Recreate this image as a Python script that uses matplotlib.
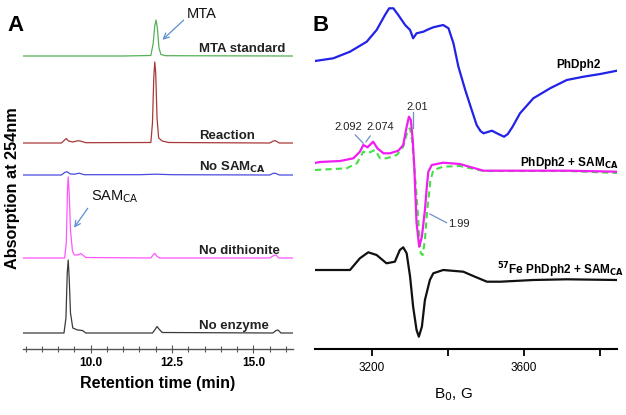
import matplotlib
matplotlib.use("Agg")
import matplotlib.pyplot as plt
from matplotlib.ticker import MultipleLocator, FixedLocator

plt.rcParams['font.family'] = ['Liberation Sans', 'DejaVu Sans']

# ---------------- panel A: HPLC traces (time in min, signal above own baseline) ----------------
mta_t = [7.92, 11.0, 11.85, 11.92, 11.97, 12.01, 12.05, 12.1, 12.16, 12.3, 16.22]
mta_s = [0, 0, 0.5, 12, 30, 36, 28, 8, 1.5, 0.3, 0]

reac_t = [7.92, 9.1, 9.2, 9.25, 9.32, 9.45, 9.6, 9.68, 9.85, 11.85, 11.9, 11.94, 11.97,
          12.0, 12.04, 12.09, 12.2, 12.4, 15.5, 15.62, 15.68, 15.8, 16.22]
reac_s = [0, 0, 3, 4.5, 2, 1, 2.2, 2, 0.3, 0.5, 20, 65, 81, 70, 25, 5, 2, 0.5, 0, 2, 2.3, 0, 0]

nosam_t = [7.92, 9.1, 9.2, 9.27, 9.38, 9.5, 9.65, 9.8, 11.5, 12.0, 12.5, 15.5, 15.62, 15.7, 15.8, 16.22]
nosam_s = [0, 0, 2.5, 3.3, 1, 0.8, 1.8, 0.3, 0.3, 0.8, 0.3, 0, 1.8, 1.5, 0, 0]

nodith_t = [7.92, 9.2, 9.25, 9.29, 9.31, 9.34, 9.38, 9.44, 9.5, 9.6, 9.7, 9.85, 11.85, 11.93,
            11.97, 12.03, 12.12, 15.5, 15.63, 15.7, 15.78, 16.22]
nodith_s = [0, 0, 15, 70, 81, 65, 28, 7, 3, 3, 4.5, 0.5, 0, 3.5, 4.7, 2, 0, 0, 2.5, 3, 0, 0]

noenz_t = [7.92, 9.18, 9.24, 9.28, 9.31, 9.34, 9.38, 9.45, 9.6, 9.75, 9.85, 11.9, 11.97, 12.04,
           12.1, 12.2, 15.6, 15.7, 15.76, 15.85, 16.22]
noenz_s = [0, 0, 15, 60, 73, 55, 20, 5, 3, 2.5, 0, 0, 3, 6.5, 4, 0.5, 0, 2.5, 3, 0, 0]

# ---------------- panel B: EPR spectra (field in G, signal relative to start level) ----------------
blue_g = [3051, 3099, 3143, 3187, 3213, 3235, 3246, 3257, 3270, 3288, 3301, 3309, 3318, 3336,
          3349, 3362, 3388, 3402, 3415, 3428, 3446, 3463, 3476, 3486, 3494, 3505, 3516, 3533,
          3548, 3558, 3570, 3590, 3625, 3669, 3713, 3757, 3801, 3845]
blue_s = [0, 2.7, 9.3, 19.3, 31, 46, 52.7, 52.7, 46, 36, 31, 22.7, 27.7, 29.3, 31.7, 33.7, 36,
          32.7, 17.7, -5.7, -29, -49, -64, -70, -72.3, -71, -69.7, -73, -75.7, -73, -66, -52.3,
          -37.3, -27.3, -19, -15.7, -13, -9.7]

mag_g = [3051, 3064, 3117, 3152, 3169, 3178, 3189, 3204, 3215, 3231, 3248, 3270, 3283, 3292,
         3298, 3303, 3308, 3312, 3318, 3325, 3332, 3340, 3345, 3349, 3358, 3388, 3432, 3450,
         3494, 3582, 3713, 3845]
mag_s = [0, 1, 2, 4.7, 11.3, 18, 15.7, 21.3, 14.7, 9.7, 9.7, 12.3, 18, 36.3, 46.3, 43, 23,
         -3.7, -60, -83.7, -73.7, -47, -23.7, -8.7, -2, 0.3, -1, -3, -7.7, -7.7, -7.7, -8.7]

sim_g = [3051, 3134, 3161, 3178, 3189, 3209, 3222, 3239, 3266, 3283, 3295, 3301, 3306, 3312,
         3317, 3323, 3329, 3334, 3340, 3346, 3352, 3354, 3362, 3388, 3432, 3494, 3582, 3713, 3845]
sim_s = [0, 1.7, 6.7, 18.3, 16.7, 20, 11.7, 11.7, 15, 23.3, 40, 41.7, 30, 3.3, -20, -53,
         -83.3, -85, -70, -40, -20, -11.7, 0, 3.3, 4, -1, -1, -1, -3]

fe_g = [3051, 3143, 3169, 3191, 3213, 3239, 3261, 3274, 3283, 3292, 3301, 3309, 3318, 3324,
        3332, 3340, 3353, 3362, 3388, 3441, 3467, 3503, 3538, 3625, 3713, 3845]
fe_s = [0, 0, 11.7, 17.7, 15, 6.7, 8.3, 20, 22.7, 16.7, -6.7, -36.7, -60, -66.7, -56.7, -30,
        -10, -3.3, 0, -1.7, -6, -11.7, -11.7, -10, -9.3, -10]

fig = plt.figure(figsize=(6.26, 4.15), dpi=100)

# ---------- A ----------
axA = fig.add_axes([23 / 626, 1 - 349 / 415, 270 / 626, 349 / 415])
axA.set_xlim(7.92, 16.22)
axA.set_ylim(0, 349)

tracesA = [
    (mta_t, mta_s, 293, '#55b055', 'MTA standard', 297),
    (reac_t, reac_s, 206, '#a83838', 'Reaction', 210),
    (nosam_t, nosam_s, 174, '#4a4ae0', 'No SAM$_{\\mathbf{CA}}$', 178),
    (nodith_t, nodith_s, 91, '#ff55ff', 'No dithionite', 95),
    (noenz_t, noenz_s, 16, '#3a3a3a', 'No enzyme', 20),
]
for t, s, base, col, lab, ly in tracesA:
    axA.plot(t, [base + v for v in s], color=col, lw=0.9)
    axA.text(13.32, ly, lab, fontsize=9.5, fontweight='bold', color='#222222', va='baseline')

axA.annotate('', xy=(12.145, 307.3), xytext=(12.92, 330.7),
             arrowprops=dict(arrowstyle='->', color='#5b8fd0', lw=0.9))
axA.text(12.95, 335, 'MTA', fontsize=10.5, va='center', ha='left', color='#111111')
axA.annotate('', xy=(9.44, 119), xytext=(9.96, 143),
             arrowprops=dict(arrowstyle='->', color='#5b8fd0', lw=0.9))
axA.text(10.0, 152, 'SAM$_{\\mathrm{CA}}$', fontsize=10.5, va='center', ha='left', color='#111111')

for sp in ['top', 'right', 'left']:
    axA.spines[sp].set_visible(False)
axA.spines['bottom'].set_color('#555555')
axA.spines['bottom'].set_linewidth(1.0)
axA.set_yticks([])
axA.xaxis.set_major_locator(FixedLocator([10.0, 12.5, 15.0]))
axA.xaxis.set_minor_locator(MultipleLocator(0.5))
axA.tick_params(axis='x', which='major', direction='inout', length=6, width=0.8, color='#555555',
                labelsize=8.5, pad=3)
axA.tick_params(axis='x', which='minor', direction='inout', length=4, width=0.8, color='#555555')
axA.set_xticklabels(['10.0', '12.5', '15.0'], fontweight='bold')
axA.set_xlabel('Retention time (min)', fontsize=11.5, fontweight='bold', labelpad=5)
fig.text(13 / 626, 1 - 188 / 415, 'Absorption at 254nm', rotation=90, fontsize=11.7,
         fontweight='bold', ha='center', va='center')
fig.text(16 / 626, 1 - 25.5 / 415, 'A', fontsize=16, fontweight='bold', ha='center', va='center')

# ---------- B ----------
axB = fig.add_axes([315 / 626, 1 - 349 / 415, 302 / 626, 349 / 415])
axB.set_xlim(3051, 3845)
axB.set_ylim(0, 349)

axB.plot(blue_g, [288 + v for v in blue_s], color='#2222e8', lw=1.6)
axB.plot(sim_g, [179 + v for v in sim_s], color='#44e044', lw=1.5, ls=(0, (3, 2)))
axB.plot(mag_g, [186 + v for v in mag_s], color='#f01ef0', lw=1.6)
axB.plot(fe_g, [79 + v for v in fe_s], color='#111111', lw=1.6)

axB.text(3801, 284, 'PhDph2', fontsize=8.5, fontweight='bold', ha='right', va='center')
axB.text(3590, 186, 'PhDph2 + SAM$_{\\mathbf{CA}}$', fontsize=8.5, fontweight='bold',
         ha='left', va='center')
axB.text(3530, 79, '$^{\\mathbf{57}}$Fe PhDph2 + SAM$_{\\mathbf{CA}}$', fontsize=8.5,
         fontweight='bold', ha='left', va='center')

ann_col = '#7090c0'
axB.text(3138, 222, '2.092', fontsize=8, ha='center', va='center', color='#222222')
axB.plot([3157, 3178], [214, 205.7], color=ann_col, lw=0.9)
axB.text(3222, 222, '2.074', fontsize=8, ha='center', va='center', color='#222222')
axB.plot([3196, 3185], [213, 207.3], color=ann_col, lw=0.9)
axB.text(3319, 242, '2.01', fontsize=8, ha='center', va='center', color='#222222')
axB.plot([3309, 3309], [237, 221], color=ann_col, lw=0.9)
axB.text(3401, 125, '1.99', fontsize=8, ha='left', va='center', color='#222222')
axB.plot([3353, 3397], [135, 126.3], color=ann_col, lw=0.9)

for sp in ['top', 'right', 'left']:
    axB.spines[sp].set_visible(False)
axB.spines['bottom'].set_linewidth(1.5)
axB.set_yticks([])
axB.set_xticks([3200, 3400, 3600, 3800])
axB.set_xticklabels(['3200', '', '3600', ''])
axB.tick_params(axis='x', direction='out', length=5, width=1.3, labelsize=8.5, pad=4)
fig.text(453 / 626, 1 - 395 / 415, 'B$_0$, G', fontsize=11, ha='center', va='center')
fig.text(321 / 626, 1 - 25.5 / 415, 'B', fontsize=16, fontweight='bold', ha='center', va='center')

fig.savefig('out.png', dpi=100)
